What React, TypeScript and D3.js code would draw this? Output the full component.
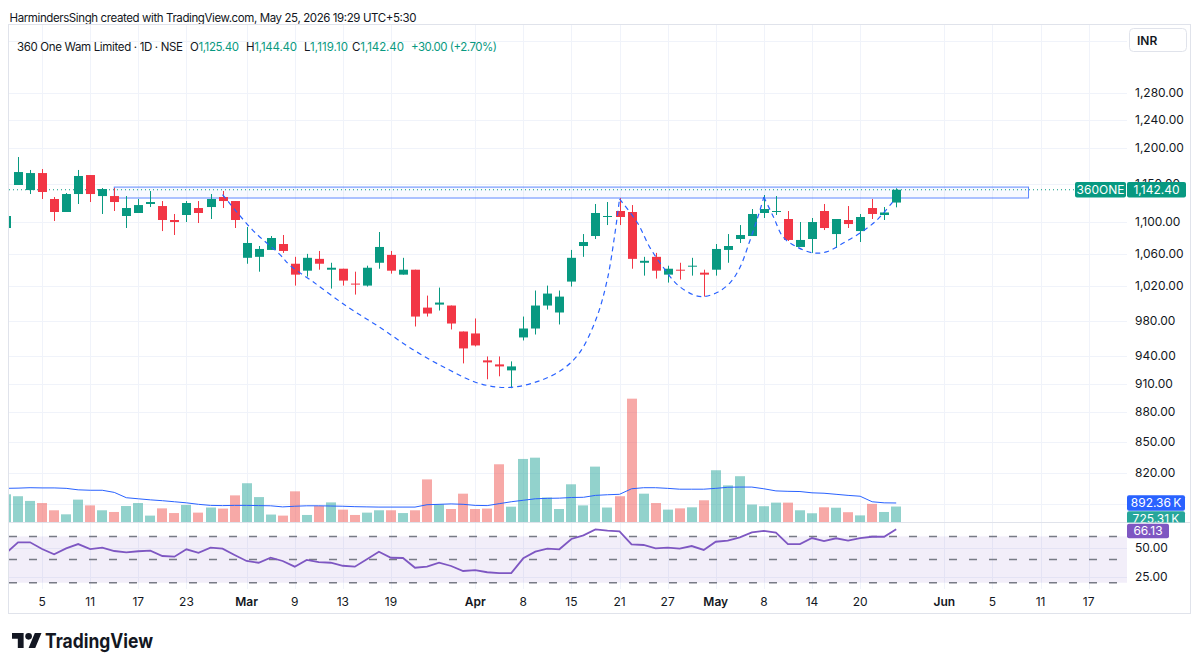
import * as d3 from "d3";

// daily bars, Feb 2 .. May 25 2026 (prices in INR)
const open = [
  1092.3, 1148.8, 1142.0, 1165.0, 1130.1, 1113.0, 1136.7, 1162.3, 1134.0, 1134.0,
  1107.8, 1111.7, 1123.5, 1120.8, 1102.6, 1109.1, 1118.2, 1119.5, 1132.7, 1127.4,
  1054.8, 1056.0, 1064.6, 1072.0, 1047.5, 1039.0, 1053.5, 1040.2, 1041.4, 1023.4,
  1021.0, 1048.7, 1058.4, 1034.2, 1040.2, 995.0, 998.5, 997.4, 967.5, 965.3,
  935.3, 930.9, 924.4, 960.8, 970.9, 997.4, 989.3, 1025.8, 1069.5, 1082.1,
  1106.5, 1114.3, 1113.0, 1048.7, 1056.0, 1034.2, 1040.2, 1043.9, 1036.6, 1040.2,
  1064.6, 1078.3, 1082.1, 1111.7, 1113.6, 1103.9, 1068.3, 1078.3, 1114.3, 1084.6,
  1102.6, 1088.4, 1118.2, 1109.1, 1125.4,
];
const high = [
  1110.4, 1187.1, 1169.2, 1170.5, 1132.7, 1138.0, 1169.2, 1162.3, 1144.7, 1144.7,
  1134.0, 1130.1, 1140.7, 1127.4, 1110.4, 1127.4, 1127.4, 1136.7, 1140.7, 1127.4,
  1093.6, 1069.5, 1082.1, 1083.4, 1056.0, 1059.7, 1063.3, 1048.7, 1041.4, 1037.8,
  1045.1, 1087.2, 1063.3, 1054.8, 1040.2, 1009.1, 1018.6, 997.4, 967.5, 982.4,
  939.6, 939.6, 934.2, 984.6, 1015.1, 1021.0, 1015.1, 1064.6, 1084.6, 1123.5,
  1126.1, 1131.4, 1122.1, 1056.0, 1060.9, 1045.1, 1048.7, 1054.8, 1040.2, 1072.0,
  1084.6, 1096.1, 1116.9, 1135.4, 1134.0, 1114.3, 1100.0, 1105.2, 1123.5, 1103.9,
  1120.8, 1110.4, 1130.1, 1119.5, 1144.4,
];
const low = [
  1088.4, 1148.8, 1136.7, 1130.1, 1101.3, 1113.0, 1123.5, 1126.1, 1110.4, 1114.3,
  1092.3, 1111.7, 1119.5, 1088.4, 1083.4, 1100.0, 1098.7, 1103.9, 1118.2, 1092.3,
  1047.5, 1037.8, 1064.6, 1060.9, 1021.0, 1031.8, 1040.2, 1017.4, 1021.0, 1010.3,
  1019.8, 1041.4, 1035.4, 1034.2, 973.2, 984.6, 991.6, 969.8, 932.0, 950.7,
  914.8, 918.0, 905.3, 957.4, 964.1, 992.7, 975.5, 1019.8, 1056.0, 1078.3,
  1096.1, 1096.1, 1041.4, 1033.0, 1029.4, 1024.6, 1028.2, 1033.0, 1007.9, 1033.0,
  1048.7, 1073.3, 1082.1, 1105.2, 1109.1, 1075.8, 1068.3, 1060.9, 1089.7, 1067.1,
  1092.3, 1074.5, 1103.9, 1102.6, 1119.1,
];
const close = [
  1107.8, 1166.4, 1165.0, 1139.4, 1113.0, 1136.7, 1161.0, 1136.7, 1143.4, 1126.1,
  1118.2, 1122.1, 1126.1, 1102.6, 1100.0, 1124.8, 1111.7, 1130.1, 1127.4, 1102.6,
  1073.3, 1065.8, 1079.6, 1063.3, 1034.2, 1054.8, 1047.5, 1042.6, 1027.0, 1022.2,
  1042.6, 1068.3, 1039.0, 1040.2, 984.6, 988.1, 1000.9, 976.6, 948.5, 951.8,
  933.1, 928.7, 928.7, 970.9, 997.4, 1011.5, 1007.9, 1054.8, 1074.5, 1111.7,
  1107.8, 1106.5, 1053.5, 1051.1, 1039.0, 1041.4, 1039.0, 1045.1, 1034.2, 1065.8,
  1069.5, 1083.4, 1110.4, 1116.9, 1114.3, 1077.1, 1077.1, 1100.0, 1092.3, 1103.9,
  1097.4, 1106.5, 1110.4, 1112.4, 1142.4,
];
// volume in millions of shares
const volume = [
  1.30, 1.21, 0.99, 0.89, 0.55, 0.36, 1.05, 0.78, 0.55, 0.47,
  0.75, 0.89, 0.30, 0.64, 0.42, 0.80, 0.44, 0.68, 0.63, 1.25,
  1.82, 1.17, 0.35, 0.30, 1.44, 0.33, 0.75, 0.92, 0.58, 0.33,
  0.44, 0.55, 0.55, 0.42, 0.55, 2.00, 0.83, 0.61, 1.33, 0.61,
  0.63, 2.71, 0.72, 2.96, 3.02, 1.15, 0.61, 1.77, 0.78, 2.60,
  0.68, 1.21, 5.79, 1.33, 0.89, 0.58, 0.64, 0.69, 1.02, 2.43,
  1.72, 2.15, 0.82, 0.74, 0.91, 0.91, 0.55, 0.41, 0.69, 0.67,
  0.46, 0.31, 0.85, 0.47, 0.72531,
];
const volumeMA = [
  1.58, 1.59, 1.61, 1.60, 1.60, 1.58, 1.51, 1.49, 1.49, 1.39,
  1.14, 1.09, 1.04, 1.00, 0.95, 0.90, 0.83, 0.78, 0.77, 0.78,
  0.78, 0.77, 0.76, 0.71, 0.74, 0.76, 0.76, 0.75, 0.74, 0.72,
  0.71, 0.70, 0.70, 0.70, 0.70, 0.81, 0.83, 0.85, 0.83, 0.78,
  0.77, 0.86, 0.95, 1.02, 1.09, 1.11, 1.12, 1.15, 1.16, 1.25,
  1.28, 1.30, 1.56, 1.61, 1.61, 1.58, 1.54, 1.54, 1.54, 1.58,
  1.63, 1.64, 1.64, 1.56, 1.46, 1.44, 1.43, 1.37, 1.35, 1.30,
  1.25, 1.21, 0.95, 0.90, 0.89236,
];
const rsi = [
  45.4, 54.9, 54.9, 49.1, 44.6, 49.7, 53.4, 49.1, 50.3, 47.4,
  46.3, 47.2, 47.7, 43.1, 42.5, 48.9, 45.9, 50.3, 49.4, 44.0,
  38.8, 37.3, 41.6, 38.8, 33.9, 39.7, 37.9, 37.3, 34.7, 33.9,
  40.3, 46.8, 41.6, 41.4, 33.0, 33.9, 37.3, 34.5, 30.2, 31.0,
  29.1, 28.4, 28.4, 41.1, 46.8, 49.4, 48.9, 57.8, 60.9, 66.1,
  64.9, 64.4, 53.2, 52.6, 49.7, 50.3, 49.4, 51.7, 48.3, 55.4,
  56.3, 59.2, 63.5, 64.7, 63.2, 53.4, 53.4, 58.6, 56.0, 58.4,
  56.3, 58.6, 59.7, 59.7, 66.13,
];

const priceTicks = [1360, 1280, 1240, 1200, 1150, 1100, 1060, 1020, 980, 940, 910, 880, 850, 820, 790];
const rsiTicks = [50, 25];
const rsiLevels = [60, 40, 20];
const dateTickIndex = [3, 7, 11, 15, 20, 24, 28, 32, 39, 43, 47, 51, 55, 59, 63, 67, 71, 78, 82, 86, 90];
const dateTickLabel = ["5", "11", "17", "23", "Mar", "9", "13", "19", "Apr", "8", "15", "21", "27", "May", "8", "14", "20", "Jun", "5", "11", "17"];
const monthLabels = ["Mar", "Apr", "May", "Jun"];

// drawings on the chart: [bar index, price]
const zoneBox = { from: 9, to: 85, top: 1146.0, bottom: 1131.4 };
const cupCurve = [
  [18, 1136], [20.5, 1089.7], [22.8, 1058.4], [23.6, 1045.6], [25.5, 1025.8], [28.35, 996.3],
  [31.1, 972.0], [33.8, 947.4], [36.7, 925.9], [39.4, 910.1], [41.9, 906.1], [44.4, 913.4],
  [46.3, 925.9], [47.7, 944.1], [49.1, 983.5], [50.0, 1029.4], [50.6, 1083.4], [51.0, 1130.1],
];
const handleCurve = [
  [51.0, 1130.1], [52.5, 1098.7], [53.5, 1068.3], [54.6, 1043.9], [55.8, 1022.2], [57.1, 1010.3],
  [57.9, 1007.9], [59.1, 1012.7], [60.2, 1024.6], [61.0, 1042.6], [61.8, 1074.5], [62.5, 1106.5], [63.0, 1132.7],
];
const lastCurve = [
  [63.0, 1132.7], [63.8, 1106.5], [64.6, 1080.8], [65.75, 1068.3], [67.1, 1060.9], [68.2, 1062.1],
  [69.6, 1073.3], [71.0, 1085.9], [72.4, 1102.6], [73.7, 1126.1],
];

const FONT = "Inter, Roboto, sans-serif";
const TEXT = "#131722";
const UP = "#089981";
const DOWN = "#F23645";
const GRID = "#F0F3FA";
const BORDER = "#E0E3EB";

export default function App() {
  const n = close.length;
  const left = 9, right = 1127, top = 24, mainBottom = 522.5, rsiTop = 523, rsiBottom = 589, axisBottom = 613;

  const x = d3.scaleLinear().domain([0, n - 1]).range([6, 896.2]);
  const y = d3.scaleLog().domain([820, 1280]).range([472.6, 92.75]);
  const yVol = d3.scaleLinear().domain([0, 1]).range([522, 500.7]);
  const yRsi = d3.scaleLinear().domain([25, 50]).range([577, 548]);

  const fmt = d3.format(",.2f");
  const curve = d3.line<number[]>().x(d => x(d[0])).y(d => y(d[1])).curve(d3.curveCatmullRom.alpha(0.5));
  const maLine = d3.line<number>().x((d, i) => x(i)).y(d => yVol(d));
  const rsiLine = d3.line<number>().x((d, i) => x(i)).y(d => yRsi(d));

  const last = n - 1;
  const change = close[last] - close[last - 1];
  const pct = (change / close[last - 1]) * 100;
  const lastY = y(close[last]);

  const maLabelY = yVol(volumeMA[last]);
  const volLabelY = Math.max(yVol(volume[last]), maLabelY + 16);
  const rsiLabelY = Math.max(yRsi(rsi[last]), rsiTop + 8);

  // axis labels that sit fully under a tag (INR button, volume tag) are not shown
  const covered = [40, maLabelY];
  const shownTicks = priceTicks.filter(t => covered.every(c => Math.abs(y(t) - c) > 5));

  const volText = (v: number) => `${(v * 1000).toFixed(2)}\u2009K`;
  const sign = (v: number) => (v >= 0 ? "+" : "");

  const ohlc = [
    { x: 190, w: 49, key: "O", value: fmt(open[last]) },
    { x: 246, w: 51, key: "H", value: fmt(high[last]) },
    { x: 304, w: 44, key: "L", value: fmt(low[last]) },
    { x: 352, w: 52, key: "C", value: fmt(close[last]) },
  ];

  return (
    <div style={{ position: "absolute", left: 0, top: 0 }}>
      <svg width={1200} height={668} style={{ display: "block", background: "#fff" }} fontFamily={FONT}>
        <defs>
          <clipPath id="mainClip"><rect x={left} y={top} width={right - left} height={mainBottom - top} /></clipPath>
          <clipPath id="rsiClip"><rect x={left} y={rsiTop} width={right - left} height={rsiBottom - rsiTop} /></clipPath>
          <clipPath id="axisClip"><rect x={right} y={top} width={1191 - right} height={mainBottom - top} /></clipPath>
        </defs>

        <text x={9.5} y={21.5} fontSize={11.5} fill={TEXT} textLength={407}>
          HarmindersSingh created with TradingView.com, May 25, 2026 19:29 UTC+5:30
        </text>

        {/* grid */}
        <g clipPath="url(#mainClip)">
          {priceTicks.map(t => (
            <line key={t} x1={left} x2={right} y1={Math.round(y(t)) + 0.5} y2={Math.round(y(t)) + 0.5} stroke={GRID} />
          ))}
        </g>
        {dateTickIndex.map(i => (
          <line key={i} x1={Math.round(x(i)) + 0.5} x2={Math.round(x(i)) + 0.5} y1={top} y2={rsiBottom} stroke={GRID} />
        ))}
        {rsiTicks.map(t => (
          <line key={t} x1={left} x2={right} y1={Math.round(yRsi(t)) + 0.5} y2={Math.round(yRsi(t)) + 0.5} stroke={GRID} />
        ))}

        {/* legend */}
        <text x={17} y={51} fontSize={11.5} fill={TEXT} textLength={166}>360 One Wam Limited · 1D · NSE</text>
        {ohlc.map(s => (
          <text key={s.key} x={s.x} y={51} fontSize={11.5} fill={TEXT} textLength={s.w}>
            {s.key}<tspan fill={UP}>{s.value}</tspan>
          </text>
        ))}
        <text x={411} y={51} fontSize={11.5} fill={UP} textLength={86}>
          {`${sign(change)}${change.toFixed(2)} (${sign(pct)}${pct.toFixed(2)}%)`}
        </text>

        <g clipPath="url(#mainClip)">
          {/* volume */}
          {volume.map((v, i) => (
            <rect key={i} x={Math.round(x(i)) - 5} width={10} y={yVol(v)} height={yVol(0) - yVol(v)}
              fill={close[i] >= open[i] ? "rgba(38,166,154,0.5)" : "rgba(239,83,80,0.5)"} />
          ))}
          <path d={maLine(volumeMA) || ""} fill="none" stroke="#2962FF" strokeWidth={1} />

          {/* zone */}
          <rect x={x(zoneBox.from)} width={x(zoneBox.to) - x(zoneBox.from)} y={y(zoneBox.top)}
            height={y(zoneBox.bottom) - y(zoneBox.top)} fill="rgba(41,98,255,0.04)" stroke="#2962FF" strokeWidth={1} strokeOpacity={0.75} />

          {/* last price line */}
          <line x1={left} x2={right} y1={lastY} y2={lastY} stroke={UP} strokeDasharray="1 3" strokeWidth={1} />

          {/* candles */}
          {close.map((c, i) => {
            const o = open[i];
            const col = c >= o ? UP : DOWN;
            const cx = Math.round(x(i));
            const y0 = y(Math.max(o, c));
            const y1 = y(Math.min(o, c));
            return (
              <g key={i}>
                <line x1={cx + 0.5} x2={cx + 0.5} y1={y(high[i])} y2={y(low[i])} stroke={col} />
                <rect x={cx - 4} width={9} y={y0} height={Math.max(1, y1 - y0)} fill={col} />
              </g>
            );
          })}

          {/* cup & handle drawings */}
          {[cupCurve, handleCurve, lastCurve].map((pts, k) => (
            <path key={k} d={curve(pts) || ""} fill="none" stroke="#2962FF" strokeWidth={1.2} strokeDasharray="5 4" />
          ))}
        </g>

        {/* RSI pane */}
        <g clipPath="url(#rsiClip)">
          <rect x={left} width={right - left} y={yRsi(rsiLevels[0])} height={yRsi(rsiLevels[2]) - yRsi(rsiLevels[0])}
            fill="rgba(126,87,194,0.1)" />
          {rsiLevels.map(l => (
            <line key={l} x1={left} x2={right} y1={yRsi(l)} y2={yRsi(l)} stroke="#787B86" strokeWidth={1.5} strokeDasharray="8 12" />
          ))}
          <path d={rsiLine(rsi) || ""} fill="none" stroke="#7E57C2" strokeWidth={1.8} />
        </g>

        {/* pane separator and frame */}
        <line x1={left} x2={1191} y1={mainBottom} y2={mainBottom} stroke={BORDER} />
        <rect x={8.5} y={top + 0.5} width={1182} height={axisBottom - top} fill="none" stroke={BORDER} />

        {/* symbol tag on the price line */}
        <rect x={1075} y={lastY - 7.7} width={51} height={15.4} rx={2} fill={UP} />
        <text x={1100.5} y={lastY + 4.2} fontSize={12} fill="#fff" textAnchor="middle">360ONE</text>

        {/* price axis */}
        <g clipPath="url(#axisClip)">
          {shownTicks.map(t => (
            <text key={t} x={1135} y={y(t) + 4} fontSize={12} fill={TEXT}>{fmt(t)}</text>
          ))}
          <rect x={1127} y={lastY - 7.7} width={59} height={15.4} rx={2} fill={UP} />
          <text x={1156.5} y={lastY + 4.2} fontSize={12} fill="#fff" textAnchor="middle">{fmt(close[last])}</text>

          <rect x={1127} y={maLabelY - 7.8} width={58} height={15.6} rx={2} fill="#2962FF" />
          <text x={1156} y={maLabelY + 4.2} fontSize={12} fill="#fff" textAnchor="middle">{volText(volumeMA[last])}</text>
          <rect x={1127} y={volLabelY - 7.8} width={58} height={15.6} rx={2} fill="#26A69A" />
          <text x={1156} y={volLabelY + 4.2} fontSize={12} fill="#fff" textAnchor="middle">{volText(volume[last])}</text>
        </g>

        <rect x={1129.5} y={28.5} width={57} height={23} rx={4} fill="#fff" stroke={BORDER} />
        <text x={1137} y={44.5} fontSize={12} fontWeight={600} fill={TEXT}>INR</text>

        {rsiTicks.map(t => (
          <text key={t} x={1135} y={yRsi(t) + 4} fontSize={12} fill={TEXT}>{fmt(t)}</text>
        ))}
        <rect x={1127} y={rsiLabelY - 7.2} width={42} height={14.4} rx={2} fill="#7E57C2" />
        <text x={1148} y={rsiLabelY + 4.2} fontSize={12} fill="#fff" textAnchor="middle">{rsi[last].toFixed(2)}</text>

        {/* time axis */}
        {dateTickIndex.map((i, k) => (
          <text key={k} x={x(i)} y={606} fontSize={12} fill={TEXT} textAnchor="middle"
            fontWeight={monthLabels.includes(dateTickLabel[k]) ? 600 : 400}>{dateTickLabel[k]}</text>
        ))}

        {/* logo */}
        <g transform="translate(12,629.7) scale(0.83)" fill={TEXT}>
          <path d="M14 22H7V11H0V4h14v18zM28 22h-8l7.5-18h8L28 22z" />
          <circle cx={20} cy={8} r={4} />
        </g>
        <text x={45} y={648} fontSize={20} fontWeight={700} fill={TEXT} textLength={108} lengthAdjust="spacingAndGlyphs">TradingView</text>
      </svg>
    </div>
  );
}
